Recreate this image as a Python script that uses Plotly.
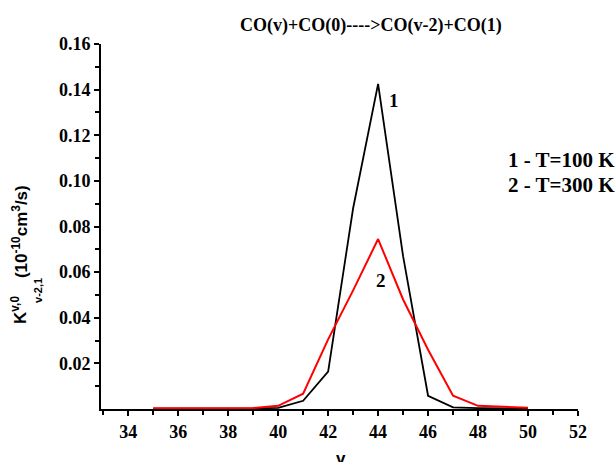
import plotly.graph_objects as go

# Vibrational level v
v_levels = [35, 36, 37, 38, 39, 40, 41, 42, 43, 44, 45, 46, 47, 48, 49, 50]

# Rate constants K (10^-10 cm^3/s)
k_T100 = [0.0001, 0.0001, 0.0001, 0.0001, 0.0002, 0.0005, 0.0036, 0.0164,
          0.088, 0.1425, 0.067, 0.0058, 0.0007, 0.0004, 0.0002, 0.0001]
k_T300 = [0.0003, 0.0003, 0.0003, 0.0003, 0.0004, 0.0014, 0.0067, 0.0305,
          0.052, 0.0745, 0.048, 0.026, 0.0058, 0.0014, 0.0008, 0.0005]

x_major = [34, 36, 38, 40, 42, 44, 46, 48, 50, 52]
x_minor = [33, 35, 37, 39, 41, 43, 45, 47, 49, 51]
y_major = [0.02, 0.04, 0.06, 0.08, 0.10, 0.12, 0.14, 0.16]
y_minor = [0.01, 0.03, 0.05, 0.07, 0.09, 0.11, 0.13, 0.15]
y_labels = ["0.02", "0.04", "0.06", "0.08", "0.10", "0.12", "0.14", "0.16"]

W, H = 615, 462
ML, MR, MT, MB = 101, 37, 43.5, 52.7

def px(x):
    return (x - ML) / (W - ML - MR)

def py(y):
    return (H - MB - y) / (H - MT - MB)

serif = "Liberation Serif"
sans = "Liberation Sans"

fig = go.Figure()
fig.add_trace(go.Scatter(x=v_levels, y=k_T100, mode="lines",
                         line=dict(color="black", width=1.8), showlegend=False))
fig.add_trace(go.Scatter(x=v_levels, y=k_T300, mode="lines",
                         line=dict(color="#ff0000", width=2), showlegend=False))

axis_common = dict(showline=True, linecolor="black", linewidth=2,
                   ticks="outside", ticklen=5, tickwidth=2, tickcolor="black",
                   showgrid=False, zeroline=False,
                   tickfont=dict(family=serif, size=18, color="black"))

fig.update_xaxes(range=[32.91, 52], tickvals=x_major,
                 ticktext=[f"<b>{v}</b>" for v in x_major],
                 minor=dict(tickvals=x_minor, ticks="outside", ticklen=4,
                            tickwidth=2, tickcolor="black"),
                 **axis_common)
fig.update_yaxes(range=[0, 0.16], tickvals=y_major,
                 ticktext=[f"<b>{t}</b>" for t in y_labels],
                 minor=dict(tickvals=y_minor, ticks="outside", ticklen=4,
                            tickwidth=2, tickcolor="black"),
                 **axis_common)

ann = []
# title
ann.append(dict(x=px(371), y=py(25), xref="paper", yref="paper",
                text="<b>CO(v)+CO(0)---->CO(v-2)+CO(1)</b>", showarrow=False,
                font=dict(family=serif, size=18, color="black"),
                xanchor="center", yanchor="middle"))
# curve labels
ann.append(dict(x=44.63, y=0.1352, xref="x", yref="y", text="<b>1</b>",
                showarrow=False, font=dict(family=serif, size=19, color="black")))
ann.append(dict(x=44.1, y=0.0565, xref="x", yref="y", text="<b>2</b>",
                showarrow=False, font=dict(family=serif, size=19, color="black")))
# legend text
ann.append(dict(x=px(506), y=py(160), xref="paper", yref="paper",
                text="<b>1 - T=100 K</b>", showarrow=False, xanchor="left",
                yanchor="middle", font=dict(family=serif, size=21, color="black")))
ann.append(dict(x=px(506), y=py(185), xref="paper", yref="paper",
                text="<b>2 - T=300 K</b>", showarrow=False, xanchor="left",
                yanchor="middle", font=dict(family=serif, size=21, color="black")))
# x axis title
ann.append(dict(x=px(341), y=py(459), xref="paper", yref="paper",
                text="<b>v</b>", showarrow=False, xanchor="center",
                yanchor="middle", font=dict(family=sans, size=17, color="black")))
# y axis title, built from pieces so the sub/superscripts stack
ann.append(dict(x=px(19), y=py(310), xref="paper", yref="paper",
                text="<b>K<sup>v,0</sup></b>", showarrow=False, textangle=-90,
                xanchor="center", yanchor="middle",
                font=dict(family=sans, size=17, color="black")))
ann.append(dict(x=px(38), y=py(291), xref="paper", yref="paper",
                text="<b>v-2,1</b>", showarrow=False, textangle=-90,
                xanchor="center", yanchor="middle",
                font=dict(family=sans, size=11, color="black")))
ann.append(dict(x=px(20), y=py(232), xref="paper", yref="paper",
                text="<b>(10<sup>-10</sup>cm<sup>3</sup>/s)</b>", showarrow=False,
                textangle=-90, xanchor="center", yanchor="middle",
                font=dict(family=sans, size=17, color="black")))

fig.update_layout(width=W, height=H, margin=dict(l=ML, r=MR, t=MT, b=MB),
                  paper_bgcolor="white", plot_bgcolor="white",
                  annotations=ann)

fig.write_html("out.html")
